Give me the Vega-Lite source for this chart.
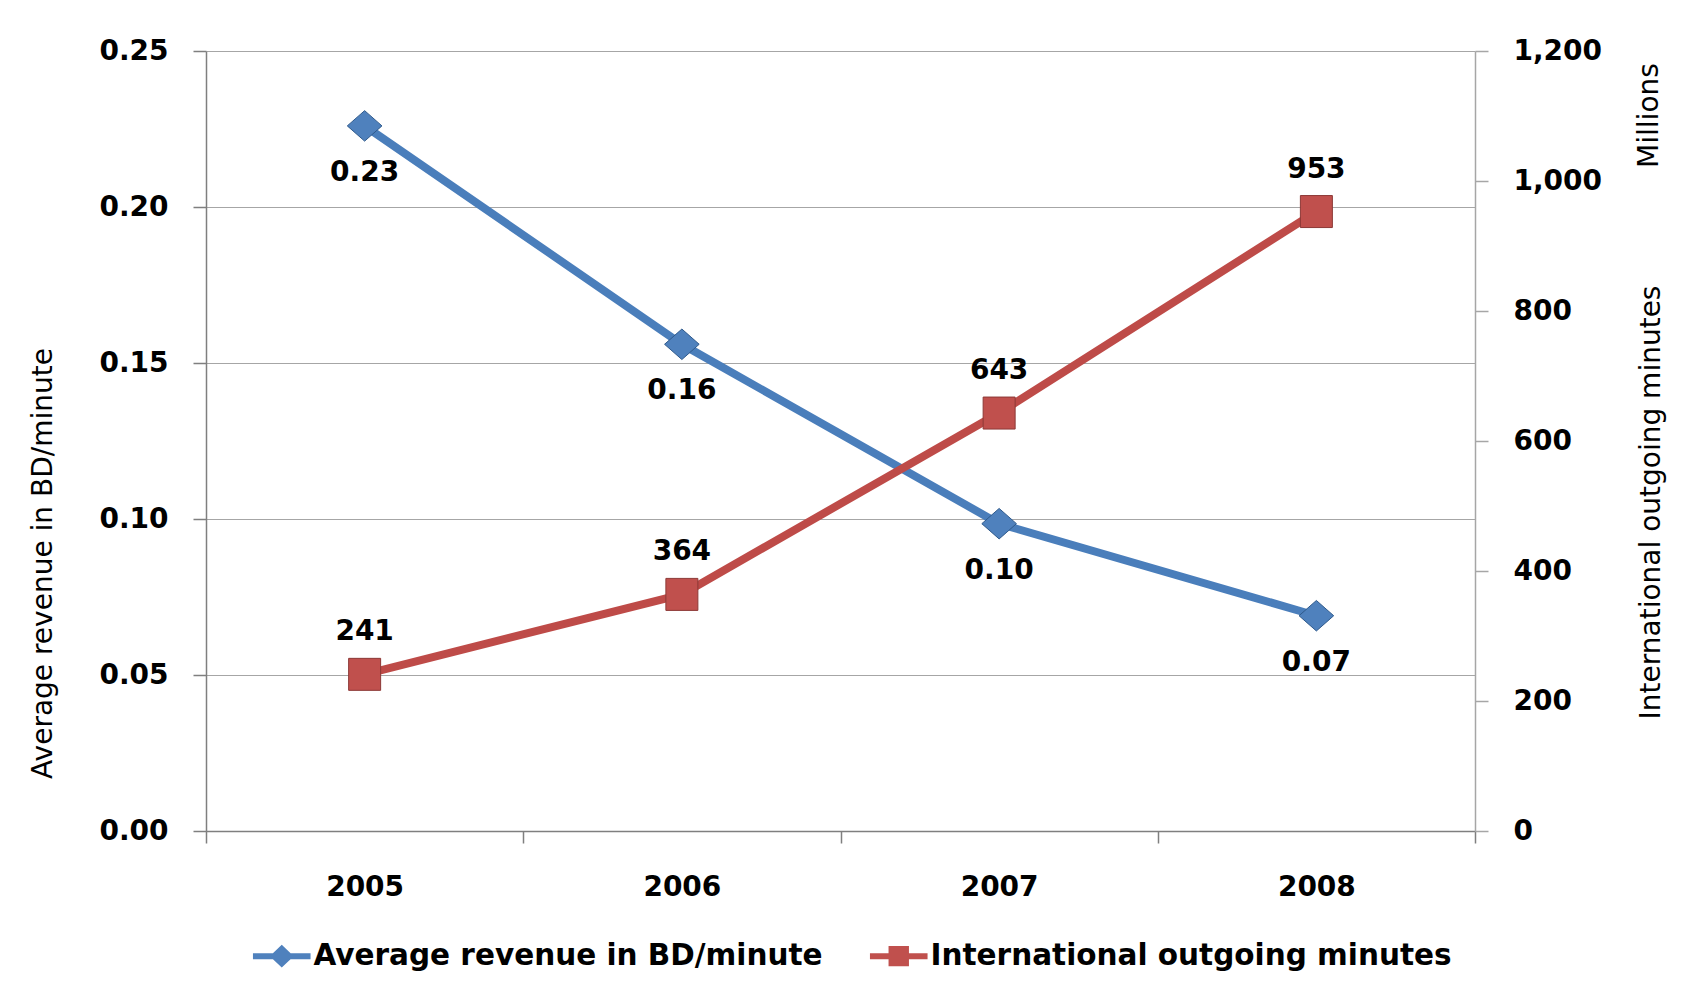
{
  "$schema": "https://vega.github.io/schema/vega-lite/v6.json",
  "width": 1269,
  "height": 780,
  "autosize": {"type": "none"},
  "padding": {"left": 206, "top": 51, "right": 226, "bottom": 154},
  "background": "white",
  "config": {
    "font": "DejaVu Sans",
    "view": {"stroke": null},
    "axis": {
      "labelFont": "DejaVu Sans",
      "labelFontWeight": "bold",
      "labelFontSize": 28,
      "labelColor": "#000000",
      "titleFont": "DejaVu Sans",
      "titleFontWeight": "normal",
      "titleFontSize": 28,
      "titleColor": "#000000"
    },
    "legend": {
      "labelFont": "DejaVu Sans",
      "labelFontWeight": "bold",
      "labelFontSize": 29.5,
      "labelColor": "#000000",
      "labelLimit": 1000
    }
  },
  "data": {
    "values": [
      {"year": "2005", "revenue": 0.226, "minutes": 241},
      {"year": "2006", "revenue": 0.156, "minutes": 364},
      {"year": "2007", "revenue": 0.0985, "minutes": 643},
      {"year": "2008", "revenue": 0.069, "minutes": 953}
    ]
  },
  "encoding": {
    "x": {
      "field": "year",
      "type": "ordinal",
      "scale": {"type": "band", "paddingInner": 0, "paddingOuter": 0},
      "axis": {
        "title": null,
        "labelAngle": 0,
        "tickBand": "extent",
        "tickSize": 12,
        "labelPadding": 30,
        "domainColor": "#7f7f7f",
        "domainWidth": 1.5,
        "tickColor": "#7f7f7f",
        "tickWidth": 1.5,
        "grid": false
      }
    }
  },
  "layer": [
    {
      "encoding": {
        "y": {
          "field": "revenue",
          "type": "quantitative",
          "scale": {"domain": [0, 0.25], "nice": false, "zero": true},
          "axis": {
            "orient": "left",
            "title": "Average revenue in BD/minute",
            "values": [0, 0.05, 0.1, 0.15, 0.2, 0.25],
            "format": ".2f",
            "tickSize": 13,
            "labelPadding": 25,
            "domainColor": "#7f7f7f",
            "domainWidth": 1.5,
            "tickColor": "#7f7f7f",
            "tickWidth": 1.5,
            "grid": true,
            "gridColor": "#a6a6a6",
            "gridWidth": 1,
            "titleX": -163,
            "titleY": 512,
            "titleAngle": 270,
            "titleAlign": "center",
            "titleBaseline": "middle"
          }
        }
      },
      "layer": [
        {
          "mark": {"type": "line", "strokeWidth": 8, "strokeCap": "round"},
          "encoding": {
            "color": {
              "datum": "Average revenue in BD/minute",
              "type": "nominal",
              "scale": {
                "domain": ["Average revenue in BD/minute", "International outgoing minutes"],
                "range": ["#4A7EBB", "#BE4B48"]
              },
              "legend": {
                "title": null,
                "orient": "none",
                "legendX": 61,
                "legendY": 890,
                "direction": "horizontal",
                "symbolSize": 576,
                "labelOffset": 17,
                "columnPadding": 46,
                "padding": 0,
                "labelLimit": 1000,
                "encode": {
                  "symbols": {
                    "update": {
                      "shape": {"signal": "datum.value === 'Average revenue in BD/minute' ? 'M-2.4,-0.25L2.4,-0.25L2.4,0.25L-2.4,0.25ZM-1,0L0,-0.95L1,0L0,0.95Z' : 'M-2.4,-0.25L2.4,-0.25L2.4,0.25L-2.4,0.25ZM-0.85,-0.85L0.85,-0.85L0.85,0.85L-0.85,0.85Z'"},
                      "fill": {"signal": "datum.value === 'Average revenue in BD/minute' ? '#4F81BD' : '#C0504D'"},
                      "fillOpacity": {"value": 1},
                      "strokeWidth": {"value": 0},
                      "opacity": {"value": 1}
                    }
                  }
                }
              }
            }
          }
        },
        {
          "mark": {
            "type": "point",
            "filled": true,
            "shape": "M-1,0L0,-0.88L1,0L0,0.88Z",
            "size": 1200,
            "fill": "#4F81BD",
            "stroke": "#2F5A8C",
            "strokeWidth": 1,
            "opacity": 1
          }
        },
        {
          "mark": {"type": "text", "dy": 47, "fontSize": 28, "fontWeight": "bold", "font": "DejaVu Sans", "color": "#000000"},
          "encoding": {"text": {"field": "revenue", "type": "quantitative", "format": ".2f"}}
        }
      ]
    },
    {
      "encoding": {
        "y": {
          "field": "minutes",
          "type": "quantitative",
          "scale": {"domain": [0, 1200], "nice": false, "zero": true},
          "axis": {
            "orient": "right",
            "title": "International outgoing minutes",
            "values": [0, 200, 400, 600, 800, 1000, 1200],
            "format": ",d",
            "tickSize": 13,
            "labelPadding": 25,
            "domainColor": "#a6a6a6",
            "domainWidth": 1.5,
            "tickColor": "#a6a6a6",
            "tickWidth": 1.5,
            "grid": false,
            "titleX": 176,
            "titleY": 451,
            "titleAngle": 270,
            "titleAlign": "center",
            "titleBaseline": "middle"
          }
        }
      },
      "layer": [
        {
          "mark": {"type": "line", "strokeWidth": 8, "strokeCap": "round"},
          "encoding": {
            "color": {"datum": "International outgoing minutes", "type": "nominal"}
          }
        },
        {
          "mark": {
            "type": "point",
            "filled": true,
            "shape": "square",
            "size": 1024,
            "fill": "#C0504D",
            "stroke": "#8C3836",
            "strokeWidth": 1,
            "opacity": 1
          }
        }
      ]
    },
    {
      "mark": {"type": "text", "dy": -42, "fontSize": 28, "fontWeight": "bold", "font": "DejaVu Sans", "color": "#000000"},
      "encoding": {
        "y": {
          "field": "minutes",
          "type": "quantitative",
          "scale": {"domain": [0, 1200], "nice": false, "zero": true},
          "axis": {
            "orient": "right",
            "title": "Millions",
            "labels": false,
            "ticks": false,
            "domain": false,
            "grid": false,
            "titleX": 174,
            "titleY": 64,
            "titleAngle": 270,
            "titleAlign": "center",
            "titleBaseline": "middle"
          }
        },
        "text": {"field": "minutes", "type": "quantitative", "format": "d"}
      }
    }
  ],
  "resolve": {"scale": {"y": "independent"}}
}
